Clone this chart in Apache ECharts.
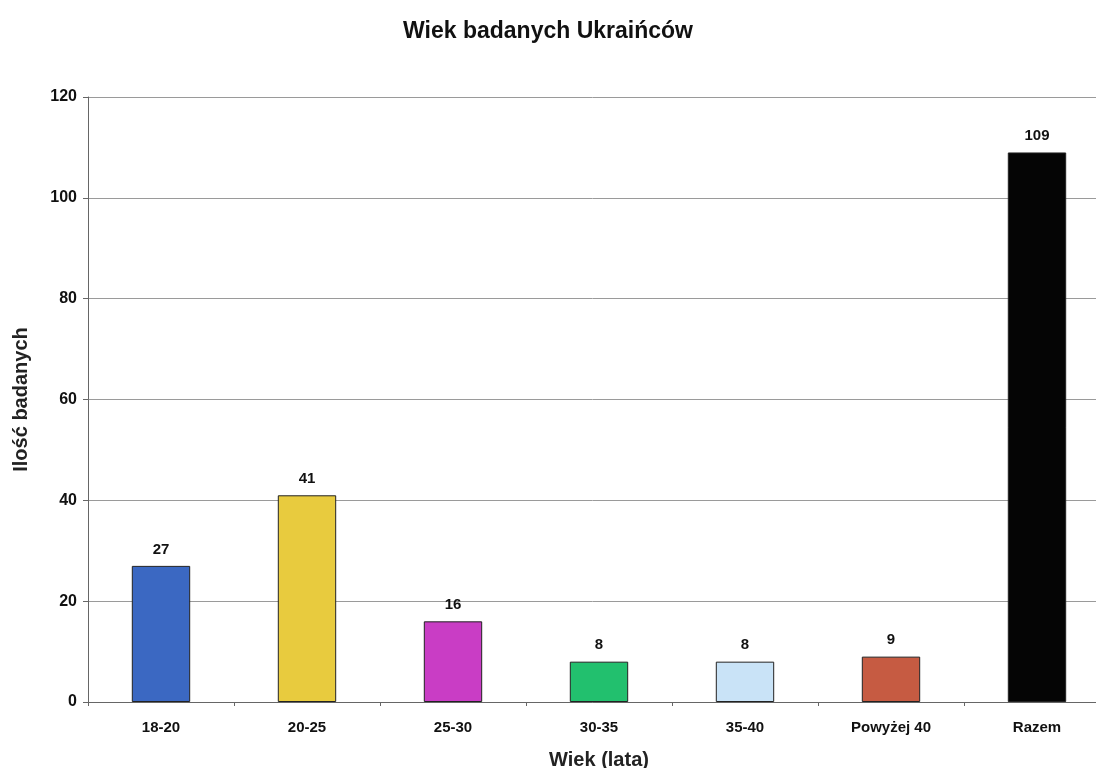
<!DOCTYPE html>
<html>
<head>
<meta charset="utf-8">
<script src="https://cdn.jsdelivr.net/npm/echarts@6/dist/echarts.min.js"></script>
<style>
    html, body { margin: 0; padding: 0; background: #fff; }
    #chart { width: 1096px; height: 768px; }
</style>
</head>
<body>
<div id="chart"></div>
<script>
    // dane z wykresu
    const categories = ['18-20', '20-25', '25-30', '30-35', '35-40', 'Powyżej 40', 'Razem'];
    const values = [27, 41, 16, 8, 8, 9, 109];
    const barColors = ['#3b68c2', '#e8cb3e', '#c93dc5', '#22c06e', '#c9e3f7', '#c65b42', '#050505'];
    const yTicks = [0, 20, 40, 60, 80, 100, 120];

    const font = '"Liberation Sans", Arial, sans-serif';

    let dom = echarts.init(document.getElementById('chart'));
    let option = {
        backgroundColor: '#fff',
        animation: false,
        title: {
            text: 'Wiek badanych Ukraińców',
            left: 'center',
            top: 15,
            textStyle: { fontFamily: font, fontSize: 23, fontWeight: 'bold', color: '#111' }
        },
        grid: {
            left: 88,
            top: 97,
            width: 1022,
            bottom: 66,
            containLabel: false,
            outerBoundsMode: 'none'
        },
        xAxis: {
            type: 'category',
            data: categories,
            name: 'Wiek (lata)',
            nameLocation: 'middle',
            nameGap: 48,
            nameTextStyle: { fontFamily: font, fontSize: 20, fontWeight: 'bold', color: '#222' },
            axisLine: { lineStyle: { color: '#666', width: 1 } },
            axisTick: { show: true, length: 4, lineStyle: { color: '#666' } },
            axisLabel: { fontFamily: font, fontSize: 15, fontWeight: 'bold', color: '#111', margin: 18 }
        },
        yAxis: {
            type: 'value',
            min: yTicks[0],
            max: yTicks[yTicks.length - 1],
            interval: 20,
            name: 'Ilość badanych',
            nameLocation: 'middle',
            nameGap: 57,
            nameRotate: 90,
            nameTextStyle: { fontFamily: font, fontSize: 20, fontWeight: 'bold', color: '#222' },
            axisLine: { show: true, lineStyle: { color: '#666', width: 1 } },
            axisTick: { show: true, length: 5, lineStyle: { color: '#666' } },
            axisLabel: { fontFamily: font, fontSize: 16, fontWeight: 'bold', color: '#111', margin: 11 },
            splitLine: { lineStyle: { color: '#9a9a9a', width: 1 } }
        },
        series: [{
            type: 'bar',
            barWidth: '40%',
            data: values.map((v, i) => ({
                value: v,
                itemStyle: { color: barColors[i], borderColor: '#222', borderWidth: 1 }
            })),
            label: {
                show: true,
                position: 'top',
                distance: 9,
                fontFamily: font,
                fontSize: 15,
                fontWeight: 'bold',
                color: '#111'
            }
        }]
    };
    dom.setOption(option);
    window.addEventListener('resize', dom.resize);
</script>
</body>
</html>
